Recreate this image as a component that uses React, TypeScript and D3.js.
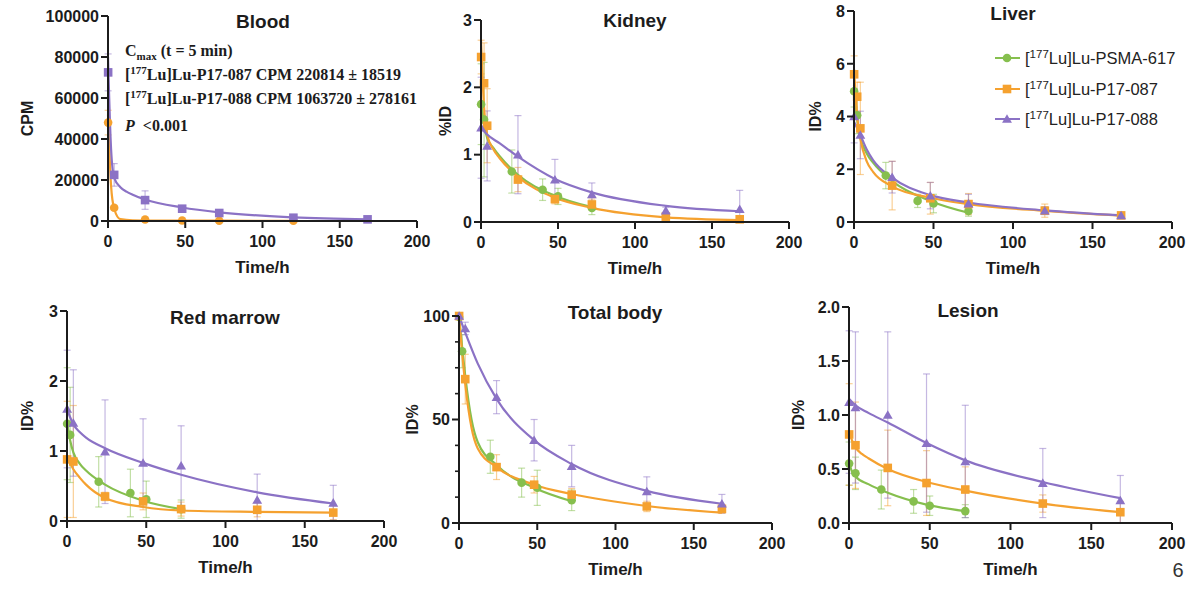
import React from "react";
import * as d3 from "d3";

const W = 1200;
const H = 589;

const GREEN = "#86bf4e";
const ORANGE = "#f5a12f";
const PURPLE = "#8b72c5";

// [time h, mean, sd]
const blood087 = [[0.083, 48000, 6000], [4, 6500, 1000], [24, 700, 300], [48, 250, 150], [72, 150, 100], [120, 100, 80]];
const blood088 = [[0.083, 72500, 9000], [4, 22500, 5500], [24, 10200, 4500], [48, 6000, 1500], [72, 3900, 900], [120, 1600, 500], [168, 800, 400]];
// fitted curves [time h, value]
const blood087Fit = [[0, 52000], [2, 17000], [4, 6000], [8, 900], [16, 300], [24, 250], [72, 150], [120, 100]];
const blood088Fit = [[0, 80000], [2, 35000], [4, 21000], [8, 16500], [12, 14300], [16, 12800], [24, 10500], [48, 6600], [72, 4200], [120, 1800], [168, 800]];

const kidney617 = [[0.083, 1.75, 0.6], [2, 1.52, 0.85], [20, 0.75, 0.32], [40, 0.48, 0.16], [50, 0.38, 0.12], [72, 0.21, 0.1]];
const kidney087 = [[0.083, 2.45, 0.25], [2, 2.06, 0.6], [4, 1.43, 0.55], [24, 0.63, 0.18], [48, 0.34, 0.07], [72, 0.26, 0.08], [120, 0.08, 0.03], [168, 0.04, 0.02]];
const kidney088 = [[0.083, 1.4, 0.75], [4, 1.13, 0.52], [24, 1.0, 0.58], [48, 0.63, 0.3], [72, 0.41, 0.17], [120, 0.17, 0.05], [168, 0.19, 0.28]];
const kidney617Fit = [[0, 1.8], [2, 1.45], [4, 1.25], [8, 1.1], [12, 0.98], [24, 0.7], [48, 0.39], [72, 0.22]];
const kidney087Fit = [[0, 2.7], [2, 1.7], [4, 1.3], [8, 1.08], [12, 0.95], [24, 0.67], [48, 0.36], [72, 0.21], [120, 0.07], [168, 0.03]];
const kidney088Fit = [[0, 1.4], [4, 1.3], [12, 1.17], [24, 0.97], [48, 0.64], [72, 0.44], [120, 0.24], [168, 0.16]];

const liver617 = [[0.083, 4.96, 0.6], [2, 4.05, 0.7], [20, 1.76, 0.5], [40, 0.8, 0.25], [50, 0.7, 0.35], [72, 0.42, 0.2]];
const liver087 = [[0.083, 5.6, 0.7], [2, 4.75, 0.55], [4, 3.55, 1.75], [24, 1.38, 0.92], [48, 0.9, 0.6], [72, 0.68, 0.4], [120, 0.43, 0.25], [168, 0.25, 0.07]];
const liver088 = [[0.083, 4.0, 1.0], [4, 3.3, 0.9], [24, 1.7, 0.6], [48, 1.0, 0.5], [72, 0.7, 0.35], [120, 0.43, 0.15], [168, 0.25, 0.06]];
const liver617Fit = [[0, 5.2], [2, 3.9], [4, 3.2], [8, 2.6], [12, 2.25], [24, 1.55], [48, 0.8], [72, 0.35]];
const liver087Fit = [[0, 5.8], [2, 4.0], [4, 3.15], [8, 2.3], [12, 1.9], [24, 1.35], [48, 0.92], [72, 0.68], [120, 0.42], [168, 0.24]];
const liver088Fit = [[0, 3.8], [4, 3.3], [8, 2.75], [12, 2.35], [24, 1.68], [48, 1.02], [72, 0.74], [120, 0.44], [168, 0.25]];

const marrow617 = [[0.083, 1.39, 0.8], [2, 1.23, 0.68], [20, 0.56, 0.36], [40, 0.4, 0.34], [50, 0.31, 0.26], [72, 0.17, 0.13]];
const marrow087 = [[0.083, 0.88, 0.83], [4, 0.85, 0.8], [24, 0.35, 0.06], [48, 0.28, 0.12], [72, 0.17, 0.1], [120, 0.16, 0.1], [168, 0.12, 0.1]];
const marrow088 = [[0.083, 1.6, 0.84], [4, 1.4, 0.76], [24, 0.99, 0.74], [48, 0.83, 0.63], [72, 0.79, 0.57], [120, 0.3, 0.37], [168, 0.26, 0.25]];
const marrow617Fit = [[0, 1.42], [2, 1.15], [4, 0.98], [8, 0.82], [12, 0.72], [24, 0.52], [48, 0.29], [72, 0.17]];
const marrow087Fit = [[0, 0.92], [4, 0.74], [8, 0.62], [12, 0.52], [24, 0.33], [48, 0.2], [72, 0.15], [120, 0.13], [168, 0.12]];
const marrow088Fit = [[0, 1.6], [4, 1.38], [8, 1.27], [12, 1.19], [24, 1.04], [48, 0.83], [72, 0.66], [120, 0.41], [168, 0.25]];

const total617 = [[0.083, 99.5, 1], [2, 83, 8], [20, 32, 8], [40, 19.5, 7], [50, 17, 8.5], [72, 11, 5]];
const total087 = [[0.083, 100, 1], [4, 69.5, 12], [24, 27, 6], [48, 18.5, 4], [72, 13.7, 3], [120, 8, 2.5], [168, 6.8, 2]];
const total088 = [[0.083, 100, 1], [4, 94, 3], [24, 60.8, 8], [48, 40, 10], [72, 27.5, 10], [120, 15.3, 7], [168, 9.3, 4.5]];
const total617Fit = [[0, 100], [2, 85], [4, 71], [8, 50], [12, 39], [24, 28], [48, 17], [72, 10.5]];
const total087Fit = [[0, 100], [2, 82], [4, 67], [8, 46], [12, 36], [24, 27], [48, 18.5], [72, 14], [120, 8.2], [168, 5]];
const total088Fit = [[0, 100], [4, 92], [12, 77], [24, 60], [48, 40], [72, 28.5], [120, 15.5], [168, 9.3]];

const lesion617 = [[0.083, 0.55, 0.2], [4, 0.46, 0.15], [20, 0.31, 0.18], [40, 0.2, 0.11], [50, 0.16, 0.09], [72, 0.11, 0.06]];
const lesion087 = [[0.083, 0.82, 0.47], [4, 0.72, 0.4], [24, 0.51, 0.35], [48, 0.37, 0.3], [72, 0.31, 0.21], [120, 0.18, 0.08], [168, 0.1, 0.1]];
const lesion088 = [[0.083, 1.12, 0.66], [4, 1.07, 0.7], [24, 1.0, 0.77], [48, 0.74, 0.64], [72, 0.57, 0.52], [120, 0.37, 0.32], [168, 0.21, 0.23]];
const lesion617Fit = [[0, 0.56], [2, 0.47], [4, 0.43], [12, 0.36], [24, 0.28], [48, 0.17], [72, 0.11]];
const lesion087Fit = [[0, 0.85], [2, 0.76], [4, 0.7], [8, 0.64], [12, 0.6], [24, 0.5], [48, 0.38], [72, 0.3], [120, 0.18], [168, 0.1]];
const lesion088Fit = [[0, 1.15], [4, 1.09], [12, 1.02], [24, 0.93], [48, 0.74], [72, 0.58], [120, 0.38], [168, 0.23]];

const xTicks = [0, 50, 100, 150, 200];
const legendNames = ["Lu-PSMA-617", "Lu-P17-087", "Lu-P17-088"];

const style = {
  "617": { color: GREEN, shape: "circle" },
  "087": { color: ORANGE, shape: "square" },
  "088": { color: PURPLE, shape: "triangle" },
};

const panels = [
  {
    title: "Blood", yLabel: "CPM", x0: 108, x1: 417, yTop: 16, yBot: 221, yMax: 100000,
    yTicks: [0, 20000, 40000, 60000, 80000, 100000], fmt: (d) => String(d),
    titleX: 263, titleY: 28, labelX: 27,
    shapes: { "087": "circle", "088": "square" },
    series: [["087", blood087, blood087Fit], ["088", blood088, blood088Fit]],
  },
  {
    title: "Kidney", yLabel: "%ID", x0: 481, x1: 789, yTop: 20, yBot: 222, yMax: 3,
    yTicks: [0, 1, 2, 3], fmt: (d) => String(d), titleX: 635, titleY: 27, labelX: 445,
    series: [["617", kidney617, kidney617Fit], ["087", kidney087, kidney087Fit], ["088", kidney088, kidney088Fit]],
  },
  {
    title: "Liver", yLabel: "ID%", x0: 854, x1: 1172, yTop: 11, yBot: 222, yMax: 8,
    yTicks: [0, 2, 4, 6, 8], fmt: (d) => String(d), titleX: 1013, titleY: 20, labelX: 815,
    series: [["617", liver617, liver617Fit], ["087", liver087, liver087Fit], ["088", liver088, liver088Fit]],
  },
  {
    title: "Red marrow", yLabel: "ID%", x0: 67, x1: 384, yTop: 311, yBot: 521, yMax: 3,
    yTicks: [0, 1, 2, 3], fmt: (d) => String(d), titleX: 225, titleY: 324, labelX: 27,
    series: [["617", marrow617, marrow617Fit], ["087", marrow087, marrow087Fit], ["088", marrow088, marrow088Fit]],
  },
  {
    title: "Total body", yLabel: "ID%", x0: 459, x1: 772, yTop: 316, yBot: 523, yMax: 100,
    yTicks: [0, 50, 100], minor: 12.5, fmt: (d) => String(d), titleX: 615, titleY: 319, labelX: 412,
    series: [["617", total617, total617Fit], ["087", total087, total087Fit], ["088", total088, total088Fit]],
  },
  {
    title: "Lesion", yLabel: "ID%", x0: 849, x1: 1172, yTop: 307, yBot: 523, yMax: 2,
    yTicks: [0, 0.5, 1, 1.5, 2], fmt: d3.format(".1f"), titleX: 968, titleY: 317, labelX: 798,
    series: [["617", lesion617, lesion617Fit], ["087", lesion087, lesion087Fit], ["088", lesion088, lesion088Fit]],
  },
];

const SANS = "'Liberation Sans', Arial, sans-serif";
const SERIF = "'Liberation Serif', 'Times New Roman', serif";

function Marker({ shape, color, cx, cy }) {
  if (shape === "circle") return <circle cx={cx} cy={cy} r={4.3} fill={color} />;
  if (shape === "square") return <rect x={cx - 4.3} y={cy - 4.3} width={8.6} height={8.6} fill={color} />;
  const p = d3.symbol(d3.symbolTriangle, 42)();
  return <path d={p} transform={`translate(${cx},${cy + 1})`} fill={color} />;
}

function Panel({ p }) {
  const x = d3.scaleLinear().domain([0, 200]).range([p.x0, p.x1]);
  const y = d3.scaleLinear().domain([0, p.yMax]).range([p.yBot, p.yTop]);
  const line = d3.line().x((d) => x(d[0])).y((d) => y(d[1])).curve(d3.curveMonotoneX);
  const minors = p.minor ? d3.range(0, p.yMax + 0.001, p.minor).filter((v) => !p.yTicks.includes(v)) : [];
  const shapeOf = (k) => (p.shapes && p.shapes[k]) || style[k].shape;
  const axisColor = "#1c1c1c";
  return (
    <g>
      {/* error bars */}
      {p.series.map(([k, pts]) => {
        const s = style[k];
        return (
          <g key={"e" + k} stroke={s.color} strokeOpacity={0.5} strokeWidth={1.2}>
            {pts.map((d, i) => {
              const hi = y(Math.min(d[1] + d[2], p.yMax));
              const lo = y(Math.max(d[1] - d[2], 0));
              const cx = x(d[0]);
              return (
                <g key={i}>
                  <line x1={cx} x2={cx} y1={hi} y2={lo} />
                  <line x1={cx - 3.5} x2={cx + 3.5} y1={hi} y2={hi} />
                  <line x1={cx - 3.5} x2={cx + 3.5} y1={lo} y2={lo} />
                </g>
              );
            })}
          </g>
        );
      })}
      {/* fitted curves */}
      {p.series.map(([k, , fit]) => (
        <path key={"f" + k} d={line(fit)} fill="none" stroke={style[k].color} strokeWidth={2.2} />
      ))}
      {/* markers */}
      {p.series.map(([k, pts]) => (
        <g key={"m" + k}>
          {pts.map((d, i) => (
            <Marker key={i} shape={shapeOf(k)} color={style[k].color} cx={x(d[0])} cy={y(d[1])} />
          ))}
        </g>
      ))}
      {/* axes */}
      <line x1={p.x0} x2={p.x0} y1={p.yTop} y2={p.yBot} stroke={axisColor} strokeWidth={2} />
      <line x1={p.x0 - 1} x2={p.x1} y1={p.yBot} y2={p.yBot} stroke={axisColor} strokeWidth={2} />
      {p.yTicks.map((t) => (
        <g key={"yt" + t}>
          <line x1={p.x0 - 7} x2={p.x0} y1={y(t)} y2={y(t)} stroke={axisColor} strokeWidth={2} />
          <text x={p.x0 - 9} y={y(t)} dy="0.36em" textAnchor="end" fontFamily={SANS} fontWeight="bold" fontSize={16} fill="#1c1c1c">
            {p.fmt(t)}
          </text>
        </g>
      ))}
      {minors.map((t) => (
        <line key={"mt" + t} x1={p.x0 - 4} x2={p.x0} y1={y(t)} y2={y(t)} stroke={axisColor} strokeWidth={1.6} />
      ))}
      {xTicks.map((t) => (
        <g key={"xt" + t}>
          <line x1={x(t)} x2={x(t)} y1={p.yBot} y2={p.yBot + 7} stroke={axisColor} strokeWidth={2} />
          <text x={x(t)} y={p.yBot + 26} textAnchor="middle" fontFamily={SANS} fontWeight="bold" fontSize={16} fill="#1c1c1c">
            {t}
          </text>
        </g>
      ))}
      <text x={(p.x0 + p.x1) / 2} y={p.yBot + 52} textAnchor="middle" fontFamily={SANS} fontWeight="bold" fontSize={17} fill="#1c1c1c">
        Time/h
      </text>
      <text
        transform={`translate(${p.labelX},${(p.yTop + p.yBot) / 2}) rotate(-90)`}
        dy="0.36em" textAnchor="middle" fontFamily={SANS} fontWeight="bold" fontSize={16} fill="#1c1c1c"
      >
        {p.yLabel}
      </text>
      <text x={p.titleX} y={p.titleY} textAnchor="middle" fontFamily={SANS} fontWeight="bold" fontSize={19} fill="#1c1c1c">
        {p.title}
      </text>
    </g>
  );
}

function Legend() {
  const keys = ["617", "087", "088"];
  const rows = [58, 89, 119];
  return (
    <g>
      {keys.map((k, i) => (
        <g key={k}>
          <line x1={995} x2={1020} y1={rows[i]} y2={rows[i]} stroke={style[k].color} strokeWidth={2} />
          <Marker shape={style[k].shape} color={style[k].color} cx={1007} cy={rows[i]} />
          <text x={1025} y={rows[i]} dy="0.36em" fontFamily={SANS} fontSize={16.5} fill="#222">
            [<tspan dy="-6" fontSize={11.5}>177</tspan>
            <tspan dy="6">{"Lu]" + legendNames[i]}</tspan>
          </text>
        </g>
      ))}
    </g>
  );
}

function Annotation() {
  const common = { fontFamily: SERIF, fontWeight: "bold", fontSize: 16, fill: "#1c1c1c" };
  return (
    <g>
      <text x={125} y={56} {...common}>
        C<tspan dy="4" fontSize={11}>max</tspan>
        <tspan dy="-4"> (t = 5 min)</tspan>
      </text>
      <text x={125} y={80} {...common}>
        [<tspan dy="-6" fontSize={11}>177</tspan>
        <tspan dy="6">Lu]Lu-P17-087 CPM 220814 ± 18519</tspan>
      </text>
      <text x={125} y={104} {...common}>
        [<tspan dy="-6" fontSize={11}>177</tspan>
        <tspan dy="6">Lu]Lu-P17-088 CPM 1063720 ± 278161</tspan>
      </text>
      <text x={125} y={131} {...common}>
        <tspan fontStyle="italic">P</tspan>
        <tspan>{" \u00a0<0.001"}</tspan>
      </text>
    </g>
  );
}

export default function App() {
  return (
    <svg width={W} height={H} style={{ position: "absolute", left: 0, top: 0, background: "#fff" }}>
      <rect width={W} height={H} fill="#fff" />
      {panels.map((p) => (
        <Panel key={p.title} p={p} />
      ))}
      <Annotation />
      <Legend />
      <text x={1178} y={577} textAnchor="middle" fontFamily={SANS} fontSize={20} fill="#333">
        6
      </text>
    </svg>
  );
}
